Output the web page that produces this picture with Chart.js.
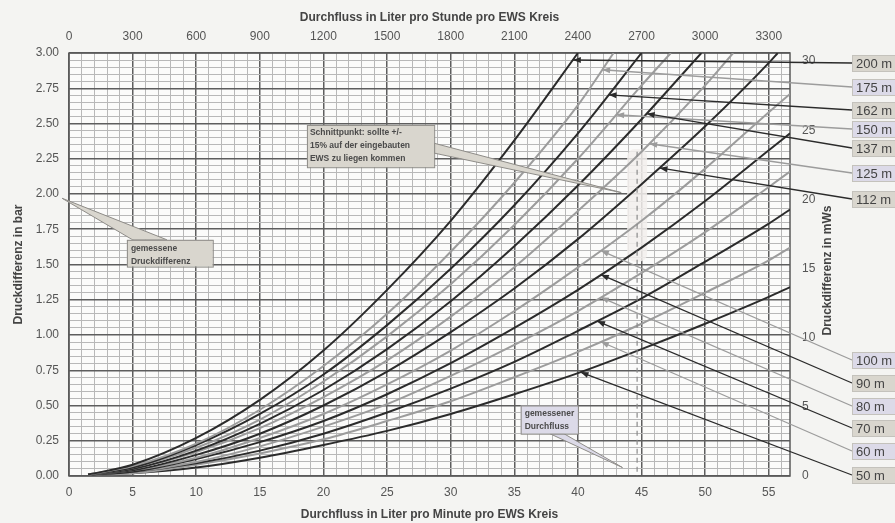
<!DOCTYPE html>
<html>
<head>
<meta charset="utf-8">
<script src="https://cdn.jsdelivr.net/npm/chart.js@4.4.1/dist/chart.umd.min.js"></script>
<style>
  html, body { margin: 0; padding: 0; background: #f4f4f2; }
  #chart { display: block; }
</style>
</head>
<body>
<canvas id="chart" width="895" height="523"></canvas>
<script>
//______________________________________________________
// Druckverlust-Kurven je EWS-Laenge: [Durchfluss l/min, Druckdifferenz bar]
const c200 = [[1.5,0.01],[5,0.08],[10,0.27],[15,0.54],[20,0.89],[25,1.32],[30,1.81],[35,2.38],[40,3.00]];
const c175 = [[1.5,0.01],[5,0.07],[10,0.23],[15,0.47],[20,0.78],[25,1.15],[30,1.59],[35,2.08],[40,2.63],[42.8,3.00]];
const c162 = [[1.5,0.01],[5,0.06],[10,0.22],[15,0.44],[20,0.72],[25,1.07],[30,1.47],[35,1.92],[40,2.43],[45,3.00]];
const c150 = [[1.5,0.01],[5,0.06],[10,0.20],[15,0.40],[20,0.67],[25,0.99],[30,1.36],[35,1.78],[40,2.25],[45,2.77],[47.3,3.00]];
const c137 = [[1.5,0.01],[5,0.05],[10,0.18],[15,0.37],[20,0.61],[25,0.90],[30,1.24],[35,1.63],[40,2.06],[45,2.53],[49.7,3.00]];
const c125 = [[1.5,0.01],[5,0.05],[10,0.17],[15,0.34],[20,0.56],[25,0.82],[30,1.13],[35,1.48],[40,1.88],[45,2.30],[50,2.77],[52.2,3.00]];
const c112 = [[1.5,0.01],[5,0.04],[10,0.15],[15,0.30],[20,0.50],[25,0.74],[30,1.02],[35,1.33],[40,1.68],[45,2.07],[50,2.48],[55,2.93],[55.7,3.00]];
const c100 = [[1.5,0.01],[5,0.04],[10,0.13],[15,0.27],[20,0.44],[25,0.65],[30,0.89],[35,1.17],[40,1.48],[45,1.81],[50,2.18],[55,2.58],[56.67,2.71]];
const c90  = [[1.5,0.01],[5,0.03],[10,0.12],[15,0.24],[20,0.39],[25,0.58],[30,0.80],[35,1.05],[40,1.32],[45,1.62],[50,1.95],[55,2.31],[56.67,2.43]];
const c80  = [[1.5,0.01],[5,0.03],[10,0.10],[15,0.21],[20,0.35],[25,0.51],[30,0.71],[35,0.93],[40,1.17],[45,1.44],[50,1.73],[55,2.05],[56.67,2.16]];
const c70  = [[1.5,0.01],[5,0.03],[10,0.09],[15,0.18],[20,0.30],[25,0.45],[30,0.62],[35,0.81],[40,1.03],[45,1.26],[50,1.52],[55,1.79],[56.67,1.89]];
const c60  = [[1.5,0.01],[5,0.02],[10,0.08],[15,0.16],[20,0.26],[25,0.39],[30,0.53],[35,0.70],[40,0.88],[45,1.08],[50,1.30],[55,1.53],[56.67,1.62]];
const c50  = [[1.5,0.01],[5,0.02],[10,0.06],[15,0.13],[20,0.22],[25,0.32],[30,0.44],[35,0.58],[40,0.73],[45,0.90],[50,1.08],[55,1.27],[56.67,1.34]];

const curves      = [c200, c175, c162, c150, c137, c125, c112, c100, c90, c80, c70, c60, c50];
const curveNames  = ['200 m','175 m','162 m','150 m','137 m','125 m','112 m','100 m','90 m','80 m','70 m','60 m','50 m'];
const arrowFlow   = [39.6, 41.9, 42.4, 43.0, 45.4, 45.6, 46.4, 41.8, 41.8, 41.8, 41.5, 41.8, 40.2]; // wo der Pfeil die Kurve trifft

const flowMax   = 3400 / 60;     // l/min
const barMax    = 3.00;
const mwsMax    = 3.00 / 0.0980665;
const measuredFlow = 44.65;      // gemessener Durchfluss (gestrichelt)
const measuredBar  = 1.97;       // gemessene Druckdifferenz

//______________________________________________________
const FONT  = '"Liberation Sans", Arial, sans-serif';
const BLACK = '#2b2b2b';
const GREY  = '#9c9c9c';
const BOX_DARK  = '#d9d6ce';
const BOX_LIGHT = '#dcdae8';
const labelBoxY = [63, 87, 110, 129, 148, 173, 199, 360, 383, 406, 428, 451, 475];

function isBlack(i) { return i % 2 === 0; }

function interp(curve, q) {
    for (let i = 1; i < curve.length; i++) {
        if (q <= curve[i][0]) {
            const [x0, y0] = curve[i-1], [x1, y1] = curve[i];
            return y0 + (y1 - y0) * (q - x0) / (x1 - x0);
        }
    }
    return curve[curve.length-1][1];
}

function arrowHead(ctx, x0, y0, x1, y1, color) {
    const a = Math.atan2(y1 - y0, x1 - x0);
    ctx.save();
    ctx.fillStyle = color;
    ctx.translate(x1, y1);
    ctx.rotate(a);
    ctx.beginPath();
    ctx.moveTo(0, 0);
    ctx.lineTo(-8, -3);
    ctx.lineTo(-8, 3);
    ctx.closePath();
    ctx.fill();
    ctx.restore();
}

function callout(ctx, box, tail, tip, fill, lines, textX, textY) {
    ctx.save();
    ctx.fillStyle = fill;
    ctx.strokeStyle = '#8e8c88';
    ctx.lineWidth = 1;
    ctx.beginPath();
    ctx.moveTo(tail[0][0], tail[0][1]);
    ctx.lineTo(tip[0], tip[1]);
    ctx.lineTo(tail[1][0], tail[1][1]);
    ctx.closePath();
    ctx.fill();
    ctx.stroke();
    ctx.fillRect(box[0], box[1], box[2] - box[0], box[3] - box[1]);
    ctx.strokeRect(box[0] + 0.5, box[1] + 0.5, box[2] - box[0], box[3] - box[1]);
    ctx.fillStyle = '#4a4a4a';
    ctx.font = 'bold 8.5px ' + FONT;
    ctx.textBaseline = 'middle';
    lines.forEach((t, k) => ctx.fillText(t, textX, textY + k * 13));
    ctx.restore();
}

//______________________________________________________
const paperPlugin = {
    id: 'paper',
    beforeDraw(chart) {
        const {ctx, chartArea: a} = chart;
        ctx.save();
        ctx.fillStyle = '#f4f4f2';
        ctx.fillRect(0, 0, chart.width, chart.height);
        ctx.fillStyle = '#fbfbfa';
        ctx.fillRect(a.left, a.top, a.right - a.left, a.bottom - a.top);
        ctx.restore();
    },
    beforeDatasetsDraw(chart) {
        const {ctx, chartArea: a, scales} = chart;
        const xs = scales.x, ys = scales.y;
        ctx.save();
        // Plot-Rahmen
        ctx.strokeStyle = '#5a5a5a';
        ctx.lineWidth = 1.5;
        ctx.strokeRect(a.left, a.top, a.right - a.left, a.bottom - a.top);
        // Schnittpunkt-Bereich
        const px = xs.getPixelForValue(measuredFlow);
        ctx.fillStyle = 'rgba(242,239,236,0.85)';
        ctx.beginPath();
        ctx.roundRect(px - 10, ys.getPixelForValue(2.32), 20, ys.getPixelForValue(1.52) - ys.getPixelForValue(2.32), 8);
        ctx.fill();
        ctx.restore();
    },
    afterDatasetsDraw(chart) {
        const {ctx, scales} = chart;
        const xs = scales.x, ys = scales.y;
        ctx.save();
        // gestrichelte Linie: gemessener Durchfluss
        const px = xs.getPixelForValue(measuredFlow);
        ctx.strokeStyle = '#8a8a8a';
        ctx.lineWidth = 1.2;
        ctx.setLineDash([5, 4]);
        ctx.beginPath();
        ctx.moveTo(px, ys.getPixelForValue(2.30));
        ctx.lineTo(px, ys.getPixelForValue(0));
        ctx.stroke();
        ctx.setLineDash([]);

        // Beschriftungen mit Zeigern
        const boxX = 852;
        curves.forEach((curve, i) => {
            const color = isBlack(i) ? BLACK : GREY;
            const q = arrowFlow[i];
            const tx = xs.getPixelForValue(q), ty = ys.getPixelForValue(interp(curve, q));
            const by = labelBoxY[i];
            ctx.strokeStyle = color;
            ctx.lineWidth = 1.3;
            ctx.beginPath();
            ctx.moveTo(boxX, by);
            ctx.lineTo(tx, ty);
            ctx.stroke();
            arrowHead(ctx, boxX, by, tx, ty, color);
        });
        curves.forEach((curve, i) => {
            const by = labelBoxY[i];
            ctx.fillStyle = isBlack(i) ? BOX_DARK : BOX_LIGHT;
            ctx.fillRect(boxX, by - 8, 60, 16);
            ctx.strokeStyle = '#c4c2bc';
            ctx.lineWidth = 1;
            ctx.strokeRect(boxX + 0.5, by - 8 + 0.5, 60, 16);
            ctx.fillStyle = '#444';
            ctx.font = '13px ' + FONT;
            ctx.textBaseline = 'middle';
            ctx.fillText(curveNames[i], boxX + 4, by + 1);
        });

        // Sprechblasen
        const P = (q, b) => [xs.getPixelForValue(q), ys.getPixelForValue(b)];
        const d1 = P(4.55, 1.675), d2 = P(11.3, 1.485);
        callout(ctx, [d1[0], d1[1], d2[0], d2[1]],
            [P(5.0, 1.675), P(7.7, 1.675)], P(-0.55, measuredBar),
            BOX_DARK, ['gemessene', 'Druckdifferenz'], d1[0] + 4, d1[1] + 9);

        const s1 = P(18.7, 2.49), s2 = P(28.7, 2.19);
        callout(ctx, [s1[0], s1[1], s2[0], s2[1]],
            [P(28.7, 2.36), P(28.7, 2.29)], P(43.4, 2.01),
            BOX_DARK, ['Schnittpunkt: sollte +/-', '15% auf der eingebauten', 'EWS zu liegen kommen'], s1[0] + 3, s1[1] + 8);

        const g1 = P(35.5, 0.50), g2 = P(40.0, 0.30);
        callout(ctx, [g1[0], g1[1], g2[0], g2[1]],
            [P(37.8, 0.30), P(38.9, 0.30)], P(43.5, 0.06),
            BOX_LIGHT, ['gemessener', 'Durchfluss'], g1[0] + 4, g1[1] + 8);

        // rechte Achsenbeschriftung
        const y2 = scales.y2;
        ctx.translate(828, (y2.top + y2.bottom) / 2 + 6);
        ctx.rotate(-Math.PI / 2);
        ctx.fillStyle = '#444';
        ctx.font = 'bold 12px ' + FONT;
        ctx.textAlign = 'center';
        ctx.textBaseline = 'middle';
        ctx.fillText('Druckdifferenz in mWs', 0, 0);
        ctx.restore();
    }
};

//______________________________________________________
function isMajorX(v) { return Math.abs(v / 5 - Math.round(v / 5)) < 1e-6; }
function isMajorY(v) { return Math.round(v * 100) % 25 === 0; }
const tickFont = {family: FONT, size: 12};
const titleFont = {family: FONT, size: 12, weight: 'bold'};

new Chart('chart', {
    type: 'line',
    data: {
        datasets: curves.map((curve, i) => ({
            label: curveNames[i],
            data: curve.map(p => ({x: p[0], y: p[1]})),
            borderColor: isBlack(i) ? BLACK : GREY,
            borderWidth: 2,
            pointRadius: 0,
            cubicInterpolationMode: 'monotone',
            fill: false
        }))
    },
    options: {
        responsive: false,
        animation: false,
        layout: {padding: {left: 0, right: 45, top: 0, bottom: 0}},
        plugins: {legend: {display: false}, tooltip: {enabled: false}},
        scales: {
            x: {
                type: 'linear', position: 'bottom', min: 0, max: flowMax,
                afterFit: s => { s.height = 47; },
                border: {display: false},
                grid: {
                    drawTicks: false,
                    color: c => isMajorX(c.tick.value) ? '#5e5e5e' : '#b8b8b8',
                    lineWidth: c => isMajorX(c.tick.value) ? 1.5 : 1
                },
                ticks: {
                    stepSize: 1, autoSkip: false, maxRotation: 0, includeBounds: false,
                    padding: 9, color: '#555', font: tickFont,
                    callback: v => isMajorX(v) ? String(Math.round(v)) : ''
                },
                title: {display: true, text: 'Durchfluss in Liter pro Minute pro EWS Kreis',
                        color: '#444', font: titleFont, padding: {top: 0, bottom: 1}}
            },
            x2: {
                type: 'linear', position: 'top', min: 0, max: 3400,
                afterFit: s => { s.height = 53; },
                border: {display: false},
                grid: {display: false, drawTicks: false},
                ticks: {stepSize: 300, autoSkip: false, maxRotation: 0, includeBounds: false,
                        padding: 9, color: '#555', font: tickFont,
                        callback: v => String(Math.round(v))},
                title: {display: true, text: 'Durchfluss in Liter pro Stunde pro EWS Kreis',
                        color: '#444', font: titleFont, padding: {top: 10, bottom: 0}}
            },
            y: {
                type: 'linear', position: 'left', min: 0, max: barMax,
                afterFit: s => { s.width = 69; },
                border: {display: false},
                grid: {
                    drawTicks: false,
                    color: c => isMajorY(c.tick.value) ? '#5e5e5e' : '#b8b8b8',
                    lineWidth: c => isMajorY(c.tick.value) ? 1.5 : 1
                },
                ticks: {
                    stepSize: 0.05, autoSkip: false, includeBounds: false,
                    padding: 10, color: '#555', font: tickFont,
                    callback: v => isMajorY(v) ? v.toFixed(2) : ''
                },
                title: {display: true, text: 'Druckdifferenz in bar',
                        color: '#444', font: titleFont, padding: {top: 11, bottom: 0}}
            },
            y2: {
                type: 'linear', position: 'right', min: 0, max: mwsMax,
                afterFit: s => { s.width = 60; },
                border: {display: false},
                grid: {display: false, drawTicks: false},
                ticks: {stepSize: 5, autoSkip: false, includeBounds: false,
                        padding: 12, color: '#555', font: tickFont}
            }
        }
    },
    plugins: [paperPlugin]
});
</script>
</body>
</html>
